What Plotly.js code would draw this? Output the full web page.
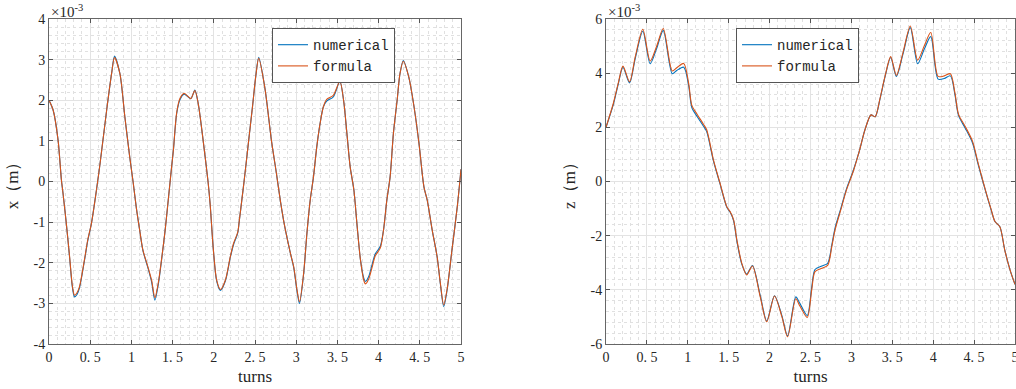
<!DOCTYPE html>
<html>
<head>
<meta charset="utf-8">
<script src="https://cdn.plot.ly/plotly-3.0.1.min.js"></script>
<style>html,body{margin:0;padding:0;background:#fff;}#chart{width:1016px;height:389px;}</style>
</head>
<body>
<div id="chart"></div>
<script>
// ---- data (values in units of 1e-3 m) ----
const turnsX = [0.00,0.05,0.11,0.15,0.17,0.21,0.25,0.285,0.31,0.34,0.37,0.43,0.47,0.515,0.576,0.62,0.70,0.76,0.795,0.86,0.92,0.98,1.02,1.06,1.10,1.14,1.20,1.245,1.285,1.325,1.37,1.41,1.45,1.49,1.51,1.55,1.59,1.64,1.72,1.77,1.81,1.87,1.93,1.955,1.995,2.035,2.08,2.14,2.20,2.24,2.29,2.31,2.34,2.37,2.42,2.47,2.51,2.545,2.62,2.70,2.76,2.81,2.86,2.93,2.97,3.01,3.04,3.09,3.13,3.17,3.21,3.25,3.29,3.33,3.37,3.45,3.53,3.575,3.615,3.655,3.70,3.74,3.78,3.82,3.84,3.88,3.92,3.96,4.02,4.06,4.10,4.14,4.18,4.225,4.26,4.30,4.365,4.43,4.49,4.55,4.59,4.65,4.71,4.75,4.79,4.83,4.89,4.955,5.00];
const formulaX = [2.00,1.76,1.02,0.05,-0.29,-1.03,-1.85,-2.59,-2.80,-2.74,-2.59,-1.93,-1.44,-1.03,-0.21,0.45,1.76,2.66,3.05,2.66,1.60,0.60,0.00,-0.65,-1.19,-1.69,-2.10,-2.43,-2.86,-2.51,-1.85,-1.19,-0.40,0.40,0.78,1.70,2.05,2.17,2.04,2.24,1.93,1.02,0.00,-0.54,-1.69,-2.43,-2.66,-2.43,-1.85,-1.52,-1.25,-0.95,-0.46,0.05,0.95,1.85,2.60,3.03,2.30,1.00,0.20,-0.50,-1.10,-1.77,-2.10,-2.67,-2.96,-2.26,-1.28,-0.46,0.12,0.86,1.43,1.84,2.02,2.12,2.46,2.00,1.19,0.36,-0.21,-1.11,-1.93,-2.43,-2.52,-2.40,-2.12,-1.83,-1.64,-1.19,-0.46,0.12,1.19,2.00,2.66,2.96,2.58,1.84,0.94,-0.13,-0.46,-1.19,-1.85,-2.51,-3.04,-2.67,-1.69,-0.62,0.30];
const numericalX = [2.00,1.76,1.02,0.05,-0.29,-1.03,-1.87,-2.62,-2.84,-2.78,-2.62,-1.95,-1.46,-1.03,-0.21,0.45,1.76,2.66,3.08,2.66,1.60,0.60,0.00,-0.65,-1.19,-1.70,-2.12,-2.47,-2.92,-2.55,-1.87,-1.19,-0.40,0.40,0.78,1.68,2.02,2.15,2.04,2.25,1.93,1.02,0.00,-0.54,-1.69,-2.45,-2.68,-2.45,-1.87,-1.55,-1.27,-0.96,-0.46,0.05,0.95,1.85,2.60,3.06,2.30,1.00,0.20,-0.50,-1.10,-1.77,-2.12,-2.70,-3.00,-2.28,-1.28,-0.46,0.12,0.86,1.43,1.84,1.98,2.08,2.46,2.00,1.19,0.36,-0.21,-1.11,-1.93,-2.38,-2.46,-2.34,-2.05,-1.78,-1.60,-1.19,-0.46,0.12,1.19,2.00,2.66,2.98,2.58,1.84,0.94,-0.13,-0.46,-1.19,-1.85,-2.53,-3.08,-2.69,-1.69,-0.62,0.30];

const turnsZ = [0.00,0.09,0.15,0.207,0.288,0.358,0.45,0.54,0.62,0.70,0.81,0.865,0.95,1.01,1.05,1.11,1.19,1.23,1.314,1.395,1.477,1.517,1.56,1.60,1.66,1.72,1.79,1.885,1.965,2.06,2.15,2.22,2.32,2.37,2.46,2.515,2.555,2.64,2.71,2.76,2.80,2.87,2.94,3.02,3.10,3.165,3.24,3.29,3.35,3.41,3.48,3.55,3.63,3.72,3.81,3.89,3.97,4.06,4.135,4.21,4.265,4.31,4.39,4.48,4.55,4.65,4.71,4.755,4.815,4.875,4.94,5.00];
const formulaZ = [2.00,2.89,3.63,4.26,3.68,4.61,5.62,4.45,5.00,5.65,4.08,4.20,4.36,3.63,2.80,2.50,2.12,1.92,0.79,-0.07,-0.93,-1.11,-1.42,-2.16,-3.02,-3.45,-3.12,-4.25,-5.18,-4.23,-4.99,-5.73,-4.33,-4.60,-5.02,-4.00,-3.33,-3.20,-3.10,-2.41,-1.79,-1.05,-0.31,0.35,1.16,1.90,2.46,2.39,3.07,3.87,4.61,3.92,4.75,5.74,4.48,5.00,5.50,3.88,3.90,3.98,3.28,2.48,2.04,1.49,0.67,-0.44,-1.05,-1.48,-1.67,-2.53,-3.27,-3.80];
const numericalZ = [2.00,2.85,3.60,4.22,3.64,4.55,5.55,4.35,4.92,5.58,3.98,4.10,4.22,3.55,2.72,2.42,2.05,1.85,0.75,-0.10,-0.95,-1.13,-1.45,-2.20,-3.05,-3.42,-3.10,-4.20,-5.15,-4.22,-4.95,-5.70,-4.26,-4.50,-4.95,-3.90,-3.25,-3.12,-3.02,-2.35,-1.72,-1.00,-0.27,0.38,1.16,1.90,2.46,2.39,3.05,3.85,4.58,3.88,4.70,5.68,4.35,4.88,5.35,3.78,3.80,3.90,3.22,2.43,1.98,1.43,0.62,-0.46,-1.07,-1.48,-1.67,-2.53,-3.27,-3.80];

const xTickVals = [0,0.5,1,1.5,2,2.5,3,3.5,4,4.5,5];
const xTickText = ['0','0. 5','1','1. 5','2','2. 5','3','3. 5','4','4. 5','5'];
const yTickValsX = [-4,-3,-2,-1,0,1,2,3,4];
const yTickTextX = ['-4','-3','-2','-1','0','1','2','3','4'];
const yTickValsZ = [-6,-4,-2,0,2,4,6];
const yTickTextZ = ['-6','-4','-2','0','2','4','6'];

const BLUE = '#0072BD', ORANGE = '#D95319';
const W = 1016;
const SERIF = 'Liberation Serif';
const tickFont = {family: SERIF, size: 14, color: '#262626'};
const titleFont = {family: SERIF, size: 17, color: '#262626'};
const expFont = {family: SERIF, size: 15, color: '#262626'};
const legFont = {family: 'Liberation Mono', size: 14, color: '#262626'};

function lineTrace(x, y, name, color, xa, ya, leg) {
  return {x: x, y: y, type: 'scatter', mode: 'lines', name: name,
    line: {color: color, width: 1.1, shape: 'spline', smoothing: 0.8},
    xaxis: xa, yaxis: ya, legend: leg, hoverinfo: 'skip'};
}

const traces = [
  lineTrace(turnsX, numericalX, 'numerical', BLUE, 'x', 'y', 'legend'),
  lineTrace(turnsX, formulaX, 'formula', ORANGE, 'x', 'y', 'legend'),
  lineTrace(turnsZ, numericalZ, 'numerical', BLUE, 'x2', 'y2', 'legend2'),
  lineTrace(turnsZ, formulaZ, 'formula', ORANGE, 'x2', 'y2', 'legend2')
];

function xAxis(domain, anchor) {
  return {domain: domain, anchor: anchor, range: [0, 5], tickvals: xTickVals, ticktext: xTickText,
    ticks: 'inside', ticklen: 4, tickcolor: '#555', tickfont: tickFont, ticklabeloverflow: 'allow',
    showline: true, linecolor: '#666', linewidth: 1, mirror: 'ticks',
    showgrid: true, gridcolor: '#e3e3e3', gridwidth: 1, zeroline: false,
    minor: {dtick: 0.1, showgrid: true, gridcolor: '#e0e0e0', griddash: 'dot', gridwidth: 1},
    title: {text: 'turns', font: titleFont, standoff: 6}};
}
function yAxis(anchor, range, vals, text, dt, label) {
  return {domain: [0, 1], anchor: anchor, range: range, tickvals: vals, ticktext: text,
    ticks: 'inside', ticklen: 4, tickcolor: '#555', tickfont: tickFont,
    showline: true, linecolor: '#666', linewidth: 1, mirror: 'ticks',
    showgrid: true, gridcolor: '#e3e3e3', gridwidth: 1, zeroline: false,
    minor: {dtick: dt, showgrid: true, gridcolor: '#e0e0e0', griddash: 'dot', gridwidth: 1},
    title: {text: label, font: titleFont, standoff: 10}};
}

const legBase = {bgcolor: '#fff', bordercolor: '#555', borderwidth: 1, font: legFont,
  xanchor: 'left', yanchor: 'top', tracegroupgap: 0, itemwidth: 30};

const layout = {
  width: 1016, height: 389,
  margin: {l: 0, r: 0, t: 19, b: 45},
  paper_bgcolor: '#fff', plot_bgcolor: '#fff',
  showlegend: true,
  xaxis: xAxis([49 / W, 461 / W], 'y'),
  yaxis: yAxis('x', [-4, 4], yTickValsX, yTickTextX, 0.2, 'x（m）'),
  xaxis2: xAxis([606 / W, 1015 / W], 'y2'),
  yaxis2: yAxis('x2', [-6, 6], yTickValsZ, yTickTextZ, 0.4, 'z（m）'),
  legend: Object.assign({}, legBase, {x: 272 / W, y: 0.972}),
  legend2: Object.assign({}, legBase, {x: 736 / W, y: 0.972}),
  annotations: [
    {text: '×10<sup>-3</sup>', xref: 'paper', yref: 'paper', x: 49 / W, y: 1, xanchor: 'left', yanchor: 'bottom', showarrow: false, font: expFont, yshift: -3},
    {text: '×10<sup>-3</sup>', xref: 'paper', yref: 'paper', x: 606 / W, y: 1, xanchor: 'left', yanchor: 'bottom', showarrow: false, font: expFont, yshift: -3}
  ]
};

Plotly.newPlot('chart', traces, layout, {staticPlot: true, displayModeBar: false});
</script>
</body>
</html>
